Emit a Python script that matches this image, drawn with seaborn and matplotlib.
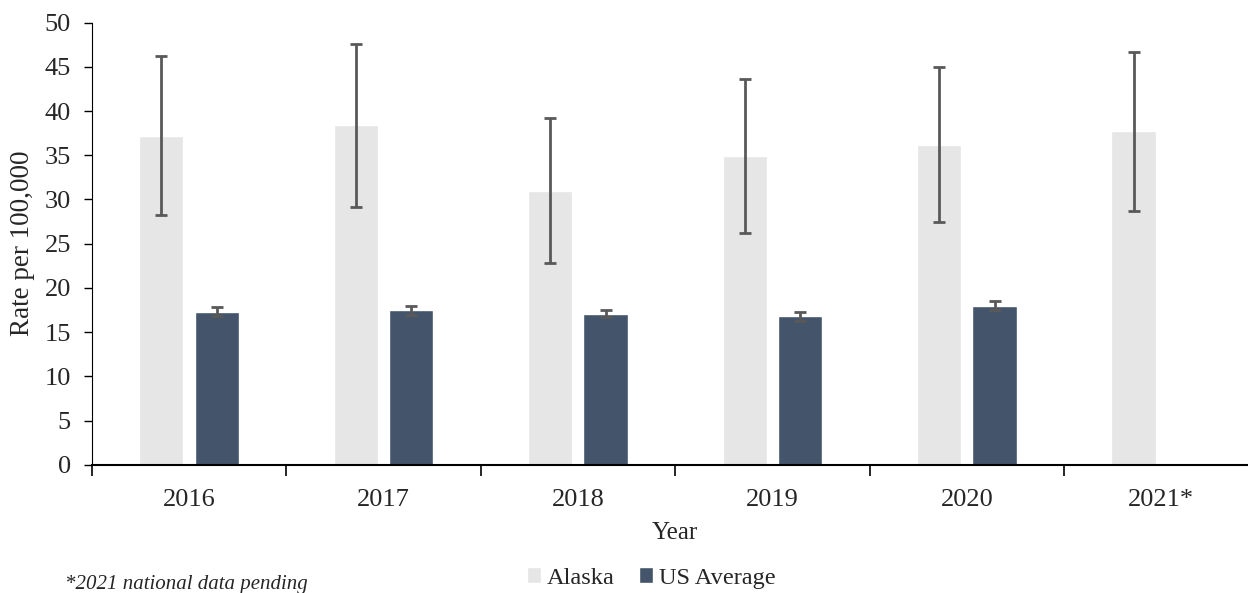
import pandas as pd
import numpy as np
import matplotlib
matplotlib.use("Agg")
import matplotlib.pyplot as plt
import seaborn as sns

# values
years = ["2016", "2017", "2018", "2019", "2020", "2021*"]
alaska = [37.2, 38.4, 31.0, 34.9, 36.2, 37.7]
alaska_err = [9.0, 9.2, 8.2, 8.7, 8.8, 9.0]
us_avg = [17.3, 17.5, 17.1, 16.8, 18.0, np.nan]
us_err = [0.5, 0.5, 0.4, 0.5, 0.5, np.nan]
series = ["Alaska", "US Average"]
colors = ["#E7E6E6", "#44546A"]

sns.set_style("white")
plt.rcParams["font.family"] = ["Liberation Serif", "DejaVu Serif"]

df = pd.DataFrame({
    "Year": years * 2,
    "Series": [series[0]] * len(years) + [series[1]] * len(years),
    "Rate": alaska + us_avg,
})

fig = plt.figure(figsize=(12.48, 5.93), dpi=100)
ax = fig.add_axes([0.0735, 0.216, 0.935, 0.746])

sns.barplot(data=df, x="Year", y="Rate", hue="Series", order=years,
            hue_order=series, palette=colors, width=0.57, gap=0.2,
            errorbar=None, saturation=1, ax=ax, legend=True)

# error bars on the bars that seaborn drew
errs = {series[0]: alaska_err, series[1]: us_err}
for cont, name in zip(ax.containers, series):
    for patch, e in zip(cont.patches, errs[name]):
        h = patch.get_height()
        if np.isnan(h) or np.isnan(e):
            continue
        xc = patch.get_x() + patch.get_width() / 2
        ax.errorbar(xc, h, yerr=e, color="#595959", elinewidth=2,
                    capsize=4, capthick=2, fmt="none")

ax.set_ylim(0, 50)
ax.set_yticks(range(0, 51, 5))
ax.set_xlim(-0.5, len(years) - 0.5)
ax.tick_params(axis="y", labelsize=19, length=6, width=1, color="black",
               direction="out", left=True, pad=9)
ax.tick_params(axis="x", which="major", labelsize=19, length=0, pad=17)
ax.set_xticks(np.arange(-0.5, len(years), 1), minor=True)
ax.tick_params(axis="x", which="minor", length=8, width=1.2,
               color="black", direction="out", bottom=True)

for s in ["top", "right"]:
    ax.spines[s].set_visible(False)
ax.spines["left"].set_color("black")
ax.spines["bottom"].set_color("black")
ax.spines["bottom"].set_linewidth(1.5)

ax.set_ylabel("Rate per 100,000", fontsize=19.5)
ax.yaxis.set_label_coords(-0.0597, 0.5)
ax.yaxis.label.set_va("center")
ax.set_xlabel("Year", fontsize=18)
ax.xaxis.set_label_coords(0.5, -0.1537)
ax.xaxis.label.set_va("center")

handles, labels = ax.get_legend_handles_labels()
ax.legend(handles, labels, loc="center", bbox_to_anchor=(0.522, 0.0253),
          bbox_transform=fig.transFigure, ncol=2, frameon=False, fontsize=17.6,
          handlelength=0.55, handleheight=0.6, handletextpad=0.25,
          columnspacing=1.0, borderpad=0)

fig.text(0.052, 0.0135, "*2021 national data pending", fontsize=15,
         style="italic", ha="left", va="center")

fig.savefig("out.png", dpi=100)
